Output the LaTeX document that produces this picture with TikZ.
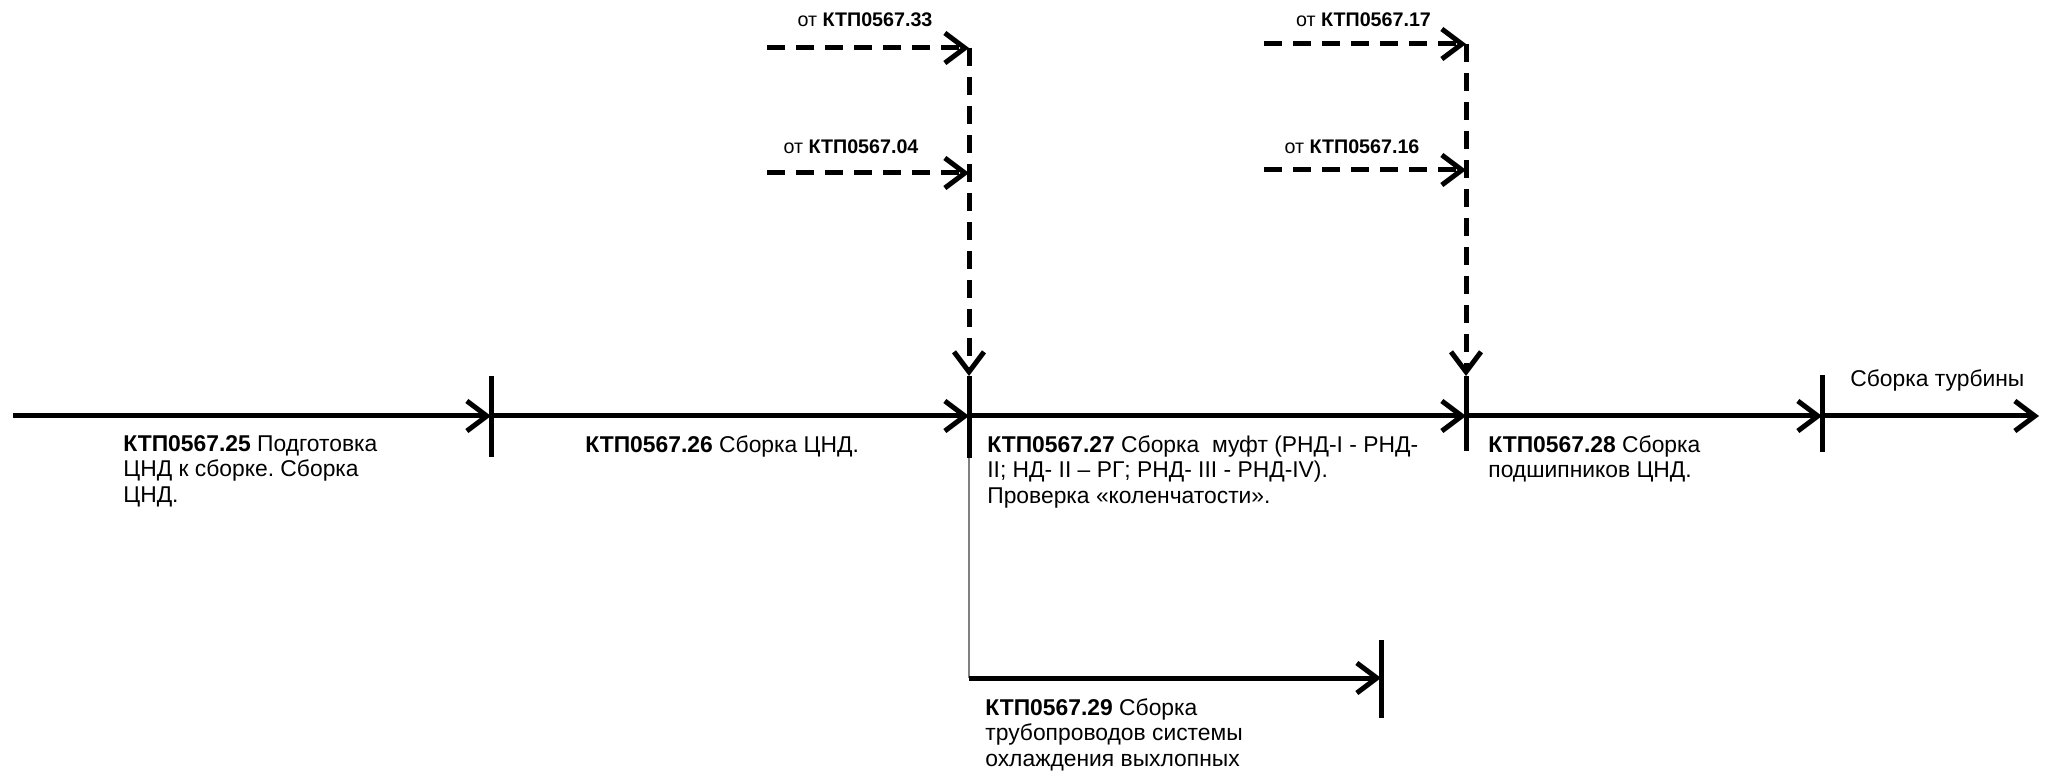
\documentclass[tikz,border=0pt]{standalone}
\usepackage{fontspec}
\setmainfont{Liberation Sans}
\usetikzlibrary{arrows.meta}
\frenchspacing

\tikzset{
    flow/.style={line width=0.1cm, -{Straight Barb[length=0.4cm,width=0.6cm]}},
    feed/.style={flow, dash pattern=on 0.36cm off 0.22cm},
    tick/.style={line width=0.1cm},
    branch/.style={line width=0.03cm, gray},
    worklabel/.style={anchor=north west, inner sep=0pt, align=left,
        font=\fontsize{13}{14.6}\selectfont},
    fromlabel/.style={inner sep=0pt, font=\fontsize{11.2}{13}\selectfont}
}

\begin{document}
\begin{tikzpicture}
\useasboundingbox (0,0) rectangle (40.94,15.5);

% Events on the main line
\coordinate (e0) at (0.26,7.18);
\coordinate (e1) at (9.82,7.18);
\coordinate (e2) at (19.38,7.18);
\coordinate (e3) at (29.32,7.18);
\coordinate (e4) at (36.44,7.18);
\coordinate (e5) at (40.78,7.18);

% Main line
\draw[flow] (e0) -- (e1);
\draw[flow] (e1) -- (e2);
\draw[flow] (e2) -- (e3);
\draw[flow] (e3) -- (e4);
\draw[flow] (e4) -- (e5);

% Event ticks
\draw[tick] (e1) ++(0,0.8) -- ++(0,-1.62);
\draw[tick] (e2) ++(0,0.8) coordinate (t2) -- ++(0,-1.64) coordinate (b2);
\draw[tick] (e3) ++(0,0.8) coordinate (t3) -- ++(0,-1.5);
\draw[tick] (e4) ++(0,0.82) -- ++(0,-1.54);

% Incoming works (dashed)
\coordinate (s33) at (15.34,14.54);
\coordinate (j33) at (19.38,14.54);
\coordinate (s04) at (15.34,12.04);
\coordinate (j04) at (19.38,12.04);
\coordinate (s17) at (25.28,14.62);
\coordinate (j17) at (29.32,14.62);
\coordinate (s16) at (25.28,12.1);
\coordinate (j16) at (29.32,12.1);

\draw[feed] (s33) -- (j33);
\draw[feed] (s04) -- (j04);
\draw[feed] (j33) -- (t2);
\draw[feed] (s17) -- (j17);
\draw[feed] (s16) -- (j16);
\draw[feed] (j17) -- (t3);

\node[fromlabel] (f33) at (17.3,15.1) {от \textbf{КТП0567.33}};
\node[fromlabel] (f04) at (17.02,12.56) {от \textbf{КТП0567.04}};
\node[fromlabel] (f17) at (27.27,15.1) {от \textbf{КТП0567.17}};
\node[fromlabel] (f16) at (27.04,12.56) {от \textbf{КТП0567.16}};

% Branch to pipework
\coordinate (c29) at (19.38,1.94);
\coordinate (e6) at (27.62,1.94);
\draw[branch] (b2) -- (c29);
\draw[flow] (c29) -- (e6);
\draw[tick] (e6) ++(0,0.76) -- ++(0,-1.56);

% Work labels
\node[worklabel] (w25) at (2.46,6.8)
    {\textbf{КТП0567.25} Подготовка\\ЦНД к сборке. Сборка\\ЦНД.};
\node[worklabel] (w26) at (11.7,6.8) {\textbf{КТП0567.26} Сборка ЦНД.};
\node[worklabel] (w27) at (19.74,6.8)
    {\textbf{КТП0567.27} Сборка\ \ муфт (РНД-I - РНД-\\II; НД- II – РГ; РНД- III - РНД-IV).\\Проверка «коленчатости».};
\node[worklabel] (w28) at (29.76,6.8) {\textbf{КТП0567.28} Сборка\\подшипников ЦНД.};
\node[worklabel] (turb) at (37.0,8.12) {Сборка турбины};
\node[worklabel] (w29) at (19.7,1.54)
    {\textbf{КТП0567.29} Сборка\\трубопроводов системы\\охлаждения выхлопных};

\end{tikzpicture}
\end{document}
